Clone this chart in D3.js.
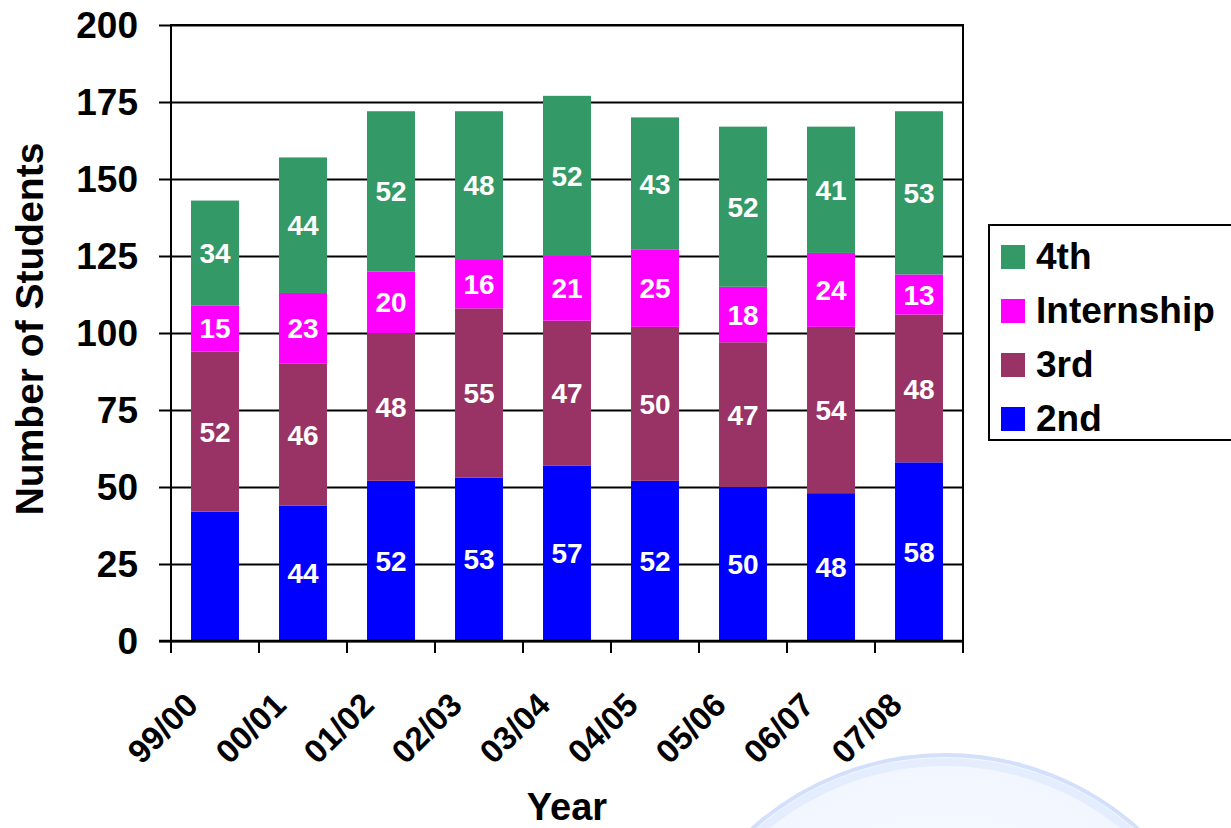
<!DOCTYPE html>
<html>
<head>
<meta charset="utf-8">
<script src="https://cdn.jsdelivr.net/npm/d3@7"></script>
<style>
  html, body { margin: 0; padding: 0; background: #fff; }
  svg { display: block; font-family: "Liberation Sans", Arial, sans-serif; font-weight: bold; }
</style>
</head>
<body>
<svg id="chart" width="1231" height="828"></svg>
<script>
// Student numbers per academic year, by study stage
const years = ["99/00", "00/01", "01/02", "02/03", "03/04", "04/05", "05/06", "06/07", "07/08"];
const second     = [42, 44, 52, 53, 57, 52, 50, 48, 58];
const third      = [52, 46, 48, 55, 47, 50, 47, 54, 48];
const internship = [15, 23, 20, 16, 21, 25, 18, 24, 13];
const fourth     = [34, 44, 52, 48, 52, 43, 52, 41, 53];
// which segments carry a value label (the first 2nd-year bar has none)
const secondLabelled = [false, true, true, true, true, true, true, true, true];
const yTicks = [0, 25, 50, 75, 100, 125, 150, 175, 200];

const seriesNames  = ["2nd", "3rd", "Internship", "4th"];
const seriesColors = ["#0000FF", "#993366", "#FF00FF", "#339966"];
const seriesValues = [second, third, internship, fourth];

const svg = d3.select("#chart");

// faint globe emblem in the lower right
const defs = svg.append("defs");
const grad = defs.append("radialGradient").attr("id", "globeFill")
  .attr("cx", "50%").attr("cy", "45%").attr("r", "55%");
grad.append("stop").attr("offset", "0%").attr("stop-color", "#fbfdff");
grad.append("stop").attr("offset", "85%").attr("stop-color", "#f1f6ff");
grad.append("stop").attr("offset", "100%").attr("stop-color", "#e3ecfe");
svg.append("circle").attr("cx", 945).attr("cy", 1044).attr("r", 289)
  .attr("fill", "url(#globeFill)").attr("stroke", "#d3e0fc").attr("stroke-width", 4);
svg.append("circle").attr("cx", 945).attr("cy", 1044).attr("r", 282)
  .attr("fill", "none").attr("stroke", "#e4edfe").attr("stroke-width", 8);

const plotLeft = 171, plotRight = 963, plotTop = 25, plotBottom = 641;

const x = d3.scaleBand().domain(years).range([plotLeft, plotRight]).paddingInner(0.455).paddingOuter(0.2275);
const xOuter = d3.scaleBand().domain(years).range([plotLeft, plotRight]);
const y = d3.scaleLinear().domain([0, 200]).range([plotBottom, plotTop]);

// gridlines with outer tick marks on the left
const yAxis = d3.axisLeft(y).tickValues(yTicks).tickSize(plotRight - plotLeft + 12).tickFormat("");
svg.append("g").attr("transform", `translate(${plotRight},0)`).call(yAxis)
  .call(g => g.select(".domain").remove())
  .call(g => g.selectAll("line").attr("stroke", "#000").attr("stroke-width", 2));

// y tick labels
svg.append("g").selectAll("text").data(yTicks).join("text")
  .attr("x", 138).attr("y", d => y(d)).attr("dy", "0.36em")
  .attr("text-anchor", "end").attr("font-size", 37).attr("fill", "#000")
  .text(d => d);

// stacked bars
const stackData = years.map((yr, i) => {
  const o = { year: yr };
  seriesNames.forEach((s, k) => { o[s] = seriesValues[k][i]; });
  return o;
});
const stacked = d3.stack().keys(seriesNames)(stackData);

const layers = svg.append("g").selectAll("g").data(stacked).join("g")
  .attr("fill", (d, k) => seriesColors[k]);
layers.selectAll("rect").data(d => d).join("rect")
  .attr("x", d => x(d.data.year))
  .attr("width", x.bandwidth())
  .attr("y", d => y(d[1]))
  .attr("height", d => y(d[0]) - y(d[1]));

// value labels
stacked.forEach((layer, k) => {
  svg.append("g").selectAll("text")
    .data(layer.filter((d, i) => k !== 0 || secondLabelled[i]))
    .join("text")
    .attr("x", d => x(d.data.year) + x.bandwidth() / 2)
    .attr("y", d => y((d[0] + d[1]) / 2))
    .attr("dy", "0.36em")
    .attr("text-anchor", "middle").attr("font-size", 28).attr("fill", "#fff")
    .text(d => d[1] - d[0]);
});

// plot frame: left axis, top and right border
svg.append("path")
  .attr("d", `M${plotLeft},${plotBottom}V${plotTop}H${plotRight}V${plotBottom}`)
  .attr("fill", "none").attr("stroke", "#000").attr("stroke-width", 2);

// x axis with ticks at category boundaries
const bounds = years.map(yr => xOuter(yr)).concat([plotRight]);
svg.append("line").attr("x1", plotLeft - 12).attr("x2", plotRight).attr("y1", plotBottom).attr("y2", plotBottom)
  .attr("stroke", "#000").attr("stroke-width", 2.5);
svg.append("g").selectAll("line").data(bounds).join("line")
  .attr("x1", d => d).attr("x2", d => d).attr("y1", plotBottom).attr("y2", plotBottom + 12)
  .attr("stroke", "#000").attr("stroke-width", 2);

// rotated year labels
svg.append("g").selectAll("text").data(years).join("text")
  .attr("transform", d => `translate(${xOuter(d) + xOuter.bandwidth() / 2 - 15},707) rotate(-45)`)
  .attr("text-anchor", "end").attr("font-size", 33).attr("fill", "#000")
  .text(d => d);

// axis titles
svg.append("text").attr("x", 567).attr("y", 820).attr("text-anchor", "middle")
  .attr("font-size", 38).attr("fill", "#000").text("Year");
svg.append("text").attr("transform", `translate(43,${(plotTop + plotBottom) / 2 - 4}) rotate(-90)`)
  .attr("text-anchor", "middle").attr("font-size", 39).attr("fill", "#000")
  .text("Number of Students");

// legend
const legend = svg.append("g");
legend.append("rect").attr("x", 989).attr("y", 225).attr("width", 260).attr("height", 215)
  .attr("fill", "#fff").attr("stroke", "#000").attr("stroke-width", 2);
const legendOrder = [3, 2, 1, 0];
const rows = legend.selectAll("g.row").data(legendOrder).join("g")
  .attr("transform", (k, i) => `translate(0,${245 + i * 54})`);
rows.append("rect").attr("x", 1001).attr("y", 0).attr("width", 24).attr("height", 24)
  .attr("fill", k => seriesColors[k]);
rows.append("text").attr("x", 1036).attr("y", 24).attr("font-size", 37).attr("fill", "#000")
  .text(k => seriesNames[k]);
</script>
</body>
</html>
